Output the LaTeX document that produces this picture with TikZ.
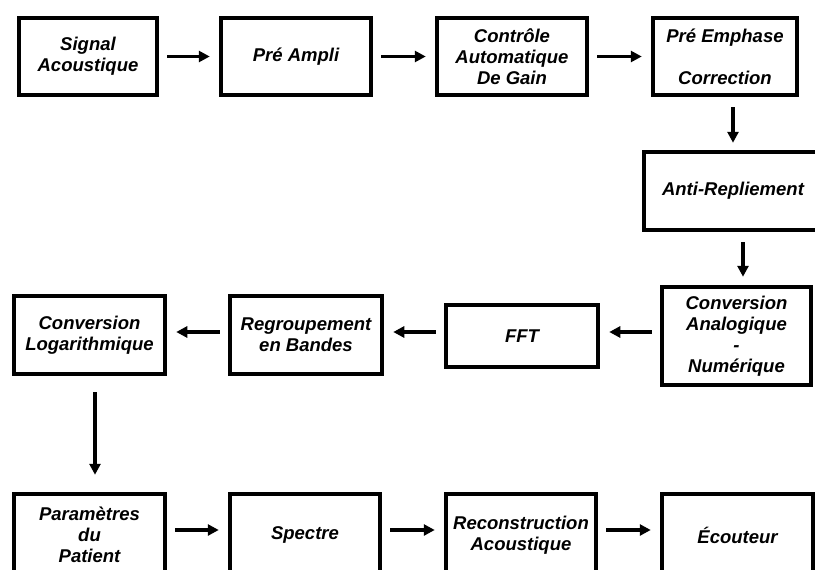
\documentclass[tikz,border=0pt]{standalone}
\usepackage{fontspec}
\setmainfont{Liberation Sans}
\usetikzlibrary{arrows.meta}
\tikzstyle{bloc}=[draw,rectangle,line width=4.5pt,align=center,inner sep=0,text=black,
  font=\bfseries\itshape\fontsize{18.5}{21}\selectfont]
\tikzstyle{fleche}=[draw,line width=3.5pt,-{Triangle[length=11pt,width=11pt]},
  shorten <=8pt,shorten >=9pt]

\begin{document}
\begin{tikzpicture}[x=1pt,y=-1pt]
	\clip (0,0) rectangle (815,570);

% % % ligne 1
	\node[bloc,minimum width=138,minimum height=77] (sig) at (88,56.5) {Signal\\Acoustique};
	\node[bloc,minimum width=150,minimum height=77] (pre) at (296,56.5) {Pré Ampli};
	\node[bloc,minimum width=150,minimum height=77] (cag) at (512,56.5) {Contrôle\\Automatique\\De Gain};
	\node[bloc,minimum width=144,minimum height=77] (emph) at (725,56.5) {Pré Emphase\\ \\Correction};

	\path[fleche] (sig) -- (pre);
	\path[fleche] (pre) -- (cag);
	\path[fleche] (cag) -- (emph);

% % % ligne 2
	\node[bloc,minimum width=178,minimum height=78] (anti) at (733,191) {Anti-Repliement};
	\node[bloc,minimum width=149,minimum height=98] (can) at (736.5,336) {Conversion\\Analogique\\-\\Numérique};
	\node[bloc,minimum width=152,minimum height=62] (fft) at (522,336) {FFT};
	\node[bloc,minimum width=152,minimum height=78] (reg) at (306,335) {Regroupement\\en Bandes};
	\node[bloc,minimum width=151,minimum height=78] (log) at (89.5,335) {Conversion\\Logarithmique};

	\path[fleche,shorten <=10pt,shorten >=7pt] (anti.north |- emph.south) -- (anti.north);
	\path[fleche,shorten <=10pt,shorten >=8pt] ([xshift=10pt]anti.south) -- ([xshift=10pt]anti.south |- can.north);

	\path[fleche] ([yshift=4pt]can.west) -- ([yshift=4pt]can.west -| fft.east);
	\path[fleche] ([yshift=4pt]fft.west) -- ([yshift=4pt]fft.west -| reg.east);
	\path[fleche] ([yshift=3pt]reg.west) -- ([yshift=3pt]reg.west -| log.east);

% % % ligne 3
	\node[bloc,minimum width=151,minimum height=82] (par) at (89.5,535) {Paramètres\\du\\Patient};
	\node[bloc,minimum width=150,minimum height=82] (spe) at (305,535) {Spectre};
	\node[bloc,minimum width=150,minimum height=82] (rec) at (521,535) {Reconstruction\\Acoustique};
	\node[bloc,minimum width=151,minimum height=82] (eco) at (737.5,535) {Écouteur};

	\path[fleche,shorten <=16pt,shorten >=17pt] ([xshift=5.5pt]log.south) -- ([xshift=5.5pt]log.south |- par.north);

	\path[fleche] ([yshift=5pt]par.east) -- ([yshift=5pt]par.east -| spe.west);
	\path[fleche] ([yshift=5pt]spe.east) -- ([yshift=5pt]spe.east -| rec.west);
	\path[fleche] ([yshift=5pt]rec.east) -- ([yshift=5pt]rec.east -| eco.west);

\end{tikzpicture}
\end{document}
